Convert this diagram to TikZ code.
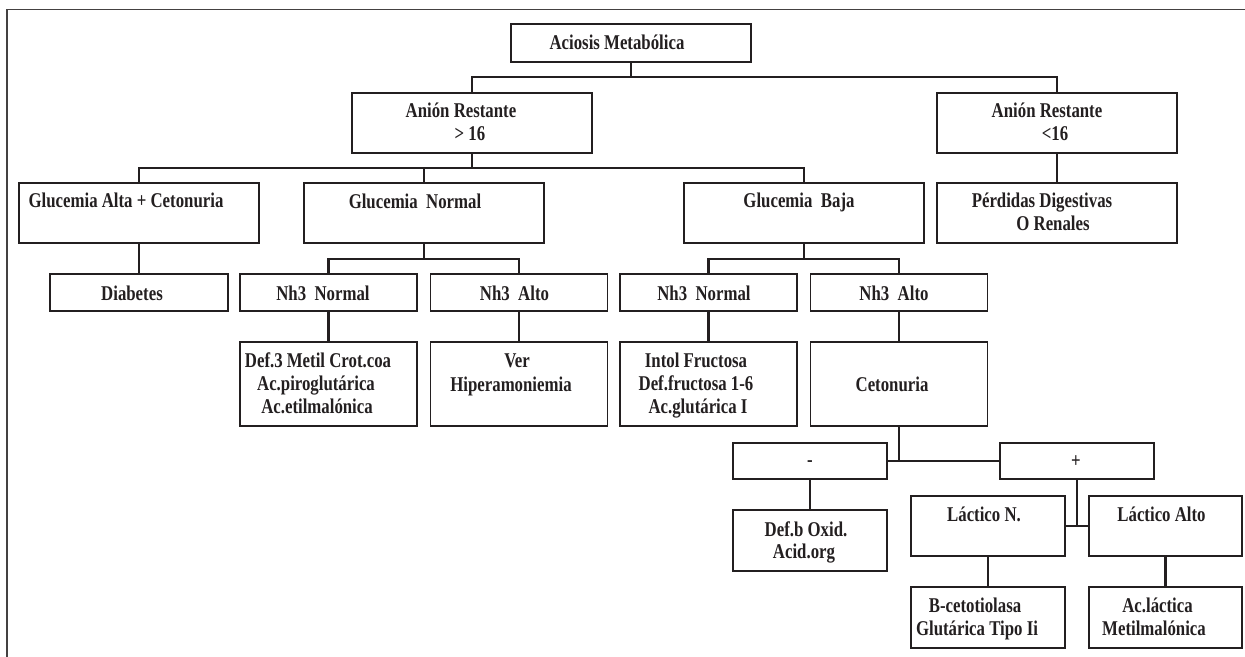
\documentclass[tikz,border=0pt]{standalone}
\usepackage{fontspec}
\newfontfamily\tnr{Liberation Serif}[FakeStretch=0.8]
\definecolor{ink}{RGB}{35,31,32}
\begin{document}
\begin{tikzpicture}[x=0.5pt,y=-0.5pt,
  box/.style={draw=ink, line width=0.85pt, rectangle, inner sep=0pt, outer sep=0pt},
  wide/.style={box, minimum width=120pt, minimum height=30pt},
  mid/.style={box, minimum width=88.5pt, minimum height=18.5pt},
  tall/.style={box, minimum width=88.5pt, minimum height=42pt},
  sign/.style={box, minimum width=77pt, minimum height=18pt},
  low/.style={box, minimum width=77pt, minimum height=30.5pt},
  txt/.style={anchor=base, inner sep=0pt, text=ink, align=center,
    font=\tnr\bfseries\fontsize{10.5pt}{11.6pt}\selectfont},
  link/.style={draw=ink, line width=1.05pt}]
\useasboundingbox (0,0) rectangle (1245,657);

% outer frame
\draw[draw=ink!85, line width=0.8pt] (7,657) -- (7,9.5) -- (1245,9.5);

% boxes
\node[box, minimum width=120pt, minimum height=19pt] (root) at (631,43) {};
\node[wide] (anion1) at (472,123) {};
\node[wide] (anion2) at (1057,123) {};
\node[wide] (galta) at (139,213) {};
\node[wide] (gnorm) at (424,213) {};
\node[wide] (gbaja) at (804,213) {};
\node[wide] (perd) at (1057,213) {};
\node[mid, minimum width=89pt] (diab) at (139,292.5) {};
\node[mid] (nhn1) at (328.5,292.5) {};
\node[mid] (nha1) at (519,292.5) {};
\node[mid] (nhn2) at (708.5,292.5) {};
\node[mid] (nha2) at (899,292.5) {};
\node[tall] (def3) at (328.5,384) {};
\node[tall] (ver) at (519,384) {};
\node[tall] (intol) at (708.5,384) {};
\node[tall] (ceto) at (899,384) {};
\node[sign] (minus) at (810,461) {};
\node[sign] (plus) at (1077,461) {};
\node[low] (defb) at (810,540.5) {};
\node[box, minimum width=77pt, minimum height=30pt] (lacn) at (988,526) {};
\node[box, minimum width=76.5pt, minimum height=30pt] (laca) at (1165.5,526) {};
\node[low] (bceto) at (988,617.5) {};
\node[box, minimum width=76.5pt, minimum height=30.5pt] (aclac) at (1165.5,617.5) {};

% labels
\node[txt] at (617,50) {Aciosis Metabólica};
\node[txt] at (461,118) {Anión Restante};
\node[txt] at (470,141) {> 16};
\node[txt] at (1047,118) {Anión Restante};
\node[txt] at (1055,141) {<16};
\node[txt] at (126,208) {Glucemia Alta + Cetonuria};
\node[txt] at (415,209) {Glucemia\ \ Normal};
\node[txt] at (799,208) {Glucemia\ \ Baja};
\node[txt] at (1042,208) {Pérdidas Digestivas};
\node[txt] at (1053,231) {O Renales};
\node[txt] at (132,300) {Diabetes};
\node[txt] at (323,300) {Nh3\ \ Normal};
\node[txt] at (514.5,300) {Nh3\ \ Alto};
\node[txt] at (704,300) {Nh3\ \ Normal};
\node[txt] at (894,300) {Nh3\ \ Alto};
\node[txt] at (318,367) {Def.3 Metil Crot.coa};
\node[txt] at (316,390) {Ac.piroglutárica};
\node[txt] at (317,413) {Ac.etilmalónica};
\node[txt] at (517,367) {Ver};
\node[txt] at (511,391) {Hiperamoniemia};
\node[txt] at (696,367) {Intol Fructosa};
\node[txt] at (696,390) {Def.fructosa 1-6};
\node[txt] at (698,413) {Ac.glutárica I};
\node[txt] at (892,391) {Cetonuria};
\node[txt] at (810,466) {-};
\node[txt] at (1076,467) {+};
\node[txt] at (806,536) {Def.b Oxid.};
\node[txt] at (804,558) {Acid.org};
\node[txt] at (984,521) {Láctico N.};
\node[txt] at (1161.5,521) {Láctico Alto};
\node[txt] at (975,612) {B-cetotiolasa};
\node[txt] at (977,635) {Glutárica Tipo Ii};
\node[txt] at (1157.5,612) {Ac.láctica};
\node[txt] at (1154,635) {Metilmalónica};

% connectors
\coordinate (b0) at (631,77);
\draw[link] (root.south) -- (b0) -| (anion1.north);
\draw[link] (b0) -| (anion2.north);
\coordinate (b1) at (472,168);
\draw[link] (anion1.south) -- (b1) -| (galta.north);
\draw[link] (b1) -| (gnorm.north);
\draw[link] (b1) -| (gbaja.north);
\draw[link] (anion2.south) -- (perd.north);
\draw[link] (galta.south) -- (diab.north);
\coordinate (b2) at (424,259);
\draw[link] (gnorm.south) -- (b2) -| (nhn1.north);
\draw[link] (b2) -| (nha1.north);
\coordinate (b3) at (804,259);
\draw[link] (gbaja.south) -- (b3) -| (nhn2.north);
\draw[link] (b3) -| (nha2.north);
\draw[link] (nhn1.south) -- (def3.north);
\draw[link] (nha1.south) -- (ver.north);
\draw[link] (nhn2.south) -- (intol.north);
\draw[link] (nha2.south) -- (ceto.north);
\draw[link] (ceto.south) -- (ceto.south |- minus.east);
\draw[link] (minus.east) -- (plus.west);
\draw[link] (minus.south) -- (defb.north);
\draw[link] (plus.south) -- (plus.south |- lacn.east);
\draw[link] (lacn.east) -- (laca.west);
\draw[link] (lacn.south) -- (bceto.north);
\draw[link] (laca.south) -- (aclac.north);
\end{tikzpicture}
\end{document}
